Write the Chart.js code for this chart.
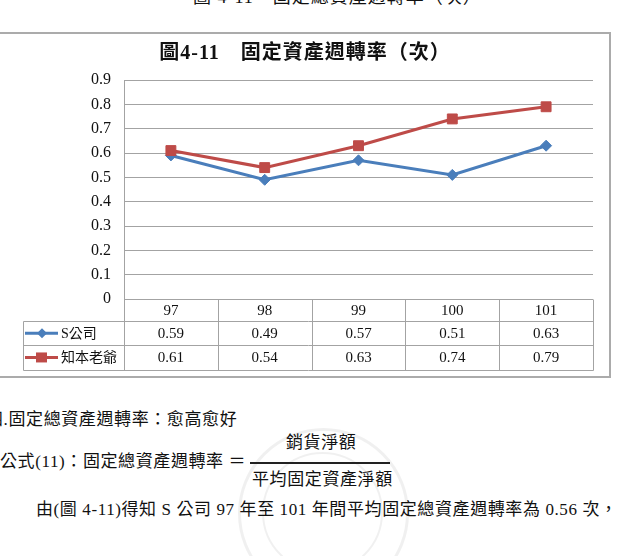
<!DOCTYPE html>
<html>
<head>
<meta charset="utf-8">
<script src="https://cdn.jsdelivr.net/npm/chart.js@4/dist/chart.umd.min.js"></script>
<style>
  html, body { margin: 0; padding: 0; background: #fff; }
  body { width: 618px; height: 556px; position: relative; overflow: hidden;
         font-family: "Liberation Serif", "Noto Sans CJK TC", serif; color: #111; }
  .abs { position: absolute; white-space: nowrap; }
  #box { position: absolute; left: -4px; top: 32px; width: 611px; height: 342px;
         border: 2px solid #ababab; }
  #chartCanvas { position: absolute; left: 0; top: 34px; }
  #title { left: 0; width: 610px; top: 40px; text-align: center; font-size: 20px;
           font-weight: bold; line-height: 24px; letter-spacing: 1px; }
  .body17 { font-size: 17px; line-height: 20px; letter-spacing: 0.6px; }
  .seal { position: absolute; border-radius: 50%; border: 3px solid rgba(0,0,0,0.06); }
</style>
</head>
<body>
<div class="abs" style="left:193px; top:-14px; font-size:18px; line-height:22px; letter-spacing:1px;">圖 4-11　固定總資產週轉率（次）</div>

<div class="seal" style="left:238px; top:428px; width:165px; height:165px;"></div>
<div class="seal" style="left:262px; top:452px; width:117px; height:117px; border-width:2px;"></div>

<div id="box"></div>
<canvas id="chartCanvas" width="608" height="340"></canvas>
<div id="title" class="abs">圖4-11　固定資產週轉率（次）</div>

<div class="abs body17" style="left:-14px; top:410px;">四.固定總資產週轉率：愈高愈好</div>
<div class="abs body17" style="left:0; top:452px;">公式(11)：固定總資產週轉率 ＝</div>
<div class="abs body17" style="left:286px; top:433px;">銷貨淨額</div>
<div class="abs" style="left:250px; top:462px; width:140px; height:2px; background:#222;"></div>
<div class="abs body17" style="left:252px; top:470px;">平均固定資產淨額</div>
<div class="abs body17" style="left:36px; top:500px;">由(圖 4-11)得知 S 公司 97 年至 101 年間平均固定總資產週轉率為 0.56 次，</div>

<script>
const years = ["97", "98", "99", "100", "101"];
const sCompany = [0.59, 0.49, 0.57, 0.51, 0.63];
const zhiben = [0.61, 0.54, 0.63, 0.74, 0.79];
const seriesNames = ["S公司", "知本老爺"];
const seriesColors = ["#4a7ebb", "#be4b48"];

const gridColor = "#a3a3a3";
const fontFamily = "'Liberation Serif', 'Noto Sans CJK TC', serif";
Chart.defaults.font.family = fontFamily;
Chart.defaults.color = "#111";

// data table under the plot, laid out from the x scale
const dataTable = {
  id: "dataTable",
  afterDraw(chart) {
    const ctx = chart.ctx;
    const x = chart.scales.x;
    const top = chart.chartArea.bottom;
    const colW = (x.right - x.left) / years.length;
    const legendLeft = 23;
    const r1 = top + 22, r2 = r1 + 24.3, r3 = r2 + 24.3;
    const line = (x1, y1, x2, y2) => {
      ctx.beginPath();
      ctx.moveTo(Math.round(x1) + 0.5, Math.round(y1) + 0.5);
      ctx.lineTo(Math.round(x2) + 0.5, Math.round(y2) + 0.5);
      ctx.stroke();
    };
    ctx.save();
    ctx.strokeStyle = gridColor;
    ctx.lineWidth = 1;
    line(x.left, top, x.left, r3);
    line(legendLeft, r1, legendLeft, r3);
    for (let i = 1; i <= years.length; i++) line(x.left + i * colW, top, x.left + i * colW, r3);
    [r1, r2, r3].forEach(y => line(legendLeft, y, x.right, y));

    ctx.fillStyle = "#111";
    ctx.textAlign = "center";
    ctx.textBaseline = "middle";
    ctx.font = "15px " + fontFamily;
    years.forEach((y, i) => ctx.fillText(y, x.getPixelForValue(i), (top + r1) / 2 + 1));
    [sCompany, zhiben].forEach((vals, k) => {
      const cy = k === 0 ? (r1 + r2) / 2 : (r2 + r3) / 2;
      vals.forEach((v, i) => ctx.fillText(v.toFixed(2), x.getPixelForValue(i), cy + 1));

      // legend key
      ctx.strokeStyle = seriesColors[k];
      ctx.fillStyle = seriesColors[k];
      ctx.lineWidth = 3;
      ctx.beginPath();
      ctx.moveTo(25, cy);
      ctx.lineTo(58, cy);
      ctx.stroke();
      ctx.beginPath();
      if (k === 0) {
        ctx.moveTo(42, cy - 5); ctx.lineTo(47, cy); ctx.lineTo(42, cy + 5); ctx.lineTo(37, cy);
      } else {
        ctx.rect(36, cy - 5, 11, 10);
      }
      ctx.fill();
      ctx.fillStyle = "#111";
      ctx.textAlign = "left";
      ctx.font = "14px " + fontFamily;
      ctx.fillText(seriesNames[k], 61, cy + 1);
      ctx.textAlign = "center";
      ctx.font = "15px " + fontFamily;
    });
    ctx.restore();
  }
};

new Chart(document.getElementById("chartCanvas"), {
  type: "line",
  data: {
    labels: years,
    datasets: [
      {
        label: seriesNames[0],
        data: sCompany,
        borderColor: seriesColors[0],
        backgroundColor: seriesColors[0],
        borderWidth: 3,
        pointStyle: "rectRot",
        pointRadius: 5.5,
        pointBorderWidth: 1,
        order: 1,
      },
      {
        label: seriesNames[1],
        data: zhiben,
        borderColor: seriesColors[1],
        backgroundColor: seriesColors[1],
        borderWidth: 3,
        pointStyle: "rect",
        pointRadius: 7,
        pointBorderWidth: 1,
        order: 0,
      },
    ],
  },
  options: {
    responsive: false,
    animation: false,
    events: [],
    layout: { padding: { left: 0, right: 15, top: 46, bottom: 75 } },
    plugins: { legend: { display: false }, tooltip: { enabled: false } },
    scales: {
      x: {
        offset: true,
        grid: { display: false },
        border: { display: false },
        ticks: { display: false },
        afterFit: (s) => { s.height = 0; },
      },
      y: {
        min: 0,
        max: 0.9,
        ticks: {
          stepSize: 0.1,
          padding: 13,
          font: { size: 16 },
          color: "#111",
          callback: (v) => (v === 0 ? "0" : v.toFixed(1)),
        },
        grid: { color: gridColor, lineWidth: 1, drawTicks: false },
        border: { display: true, color: gridColor },
        afterFit: (s) => { s.width = 124; },
      },
    },
  },
  plugins: [dataTable],
});
</script>
</body>
</html>
